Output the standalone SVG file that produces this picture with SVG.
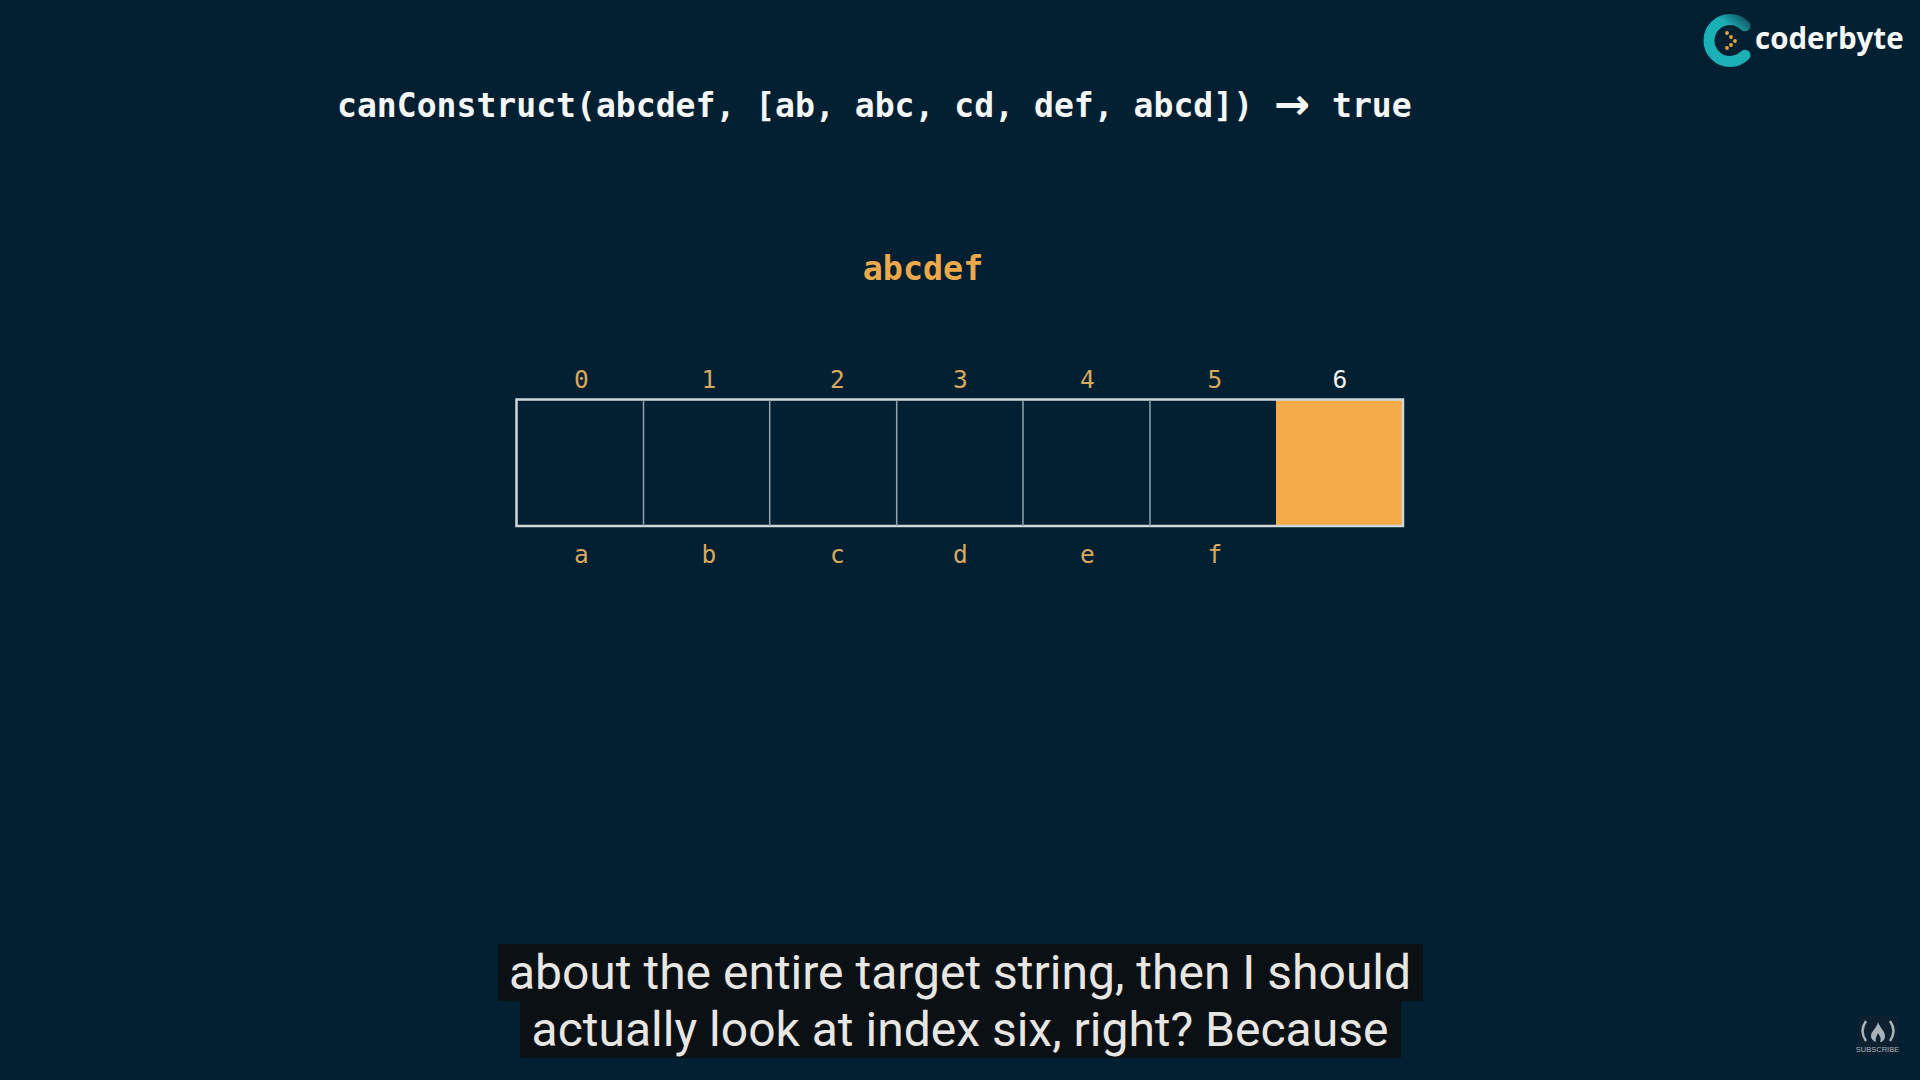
<svg xmlns="http://www.w3.org/2000/svg" width="1920" height="1080" viewBox="0 0 1920 1080">
<defs>
<linearGradient id="arc" gradientUnits="userSpaceOnUse" x1="1715" y1="60" x2="1752" y2="16"><stop offset="0.6" stop-color="#1bb0b5"/><stop offset="1" stop-color="#0f3a48"/></linearGradient>
</defs>
<style>
.mono{font-family:"DejaVu Sans Mono","Liberation Mono",monospace}
.code{font-size:33.1px;font-weight:700;fill:#f4f6f7}
.idx{font-size:24.5px;fill:#d8a95e;text-anchor:middle}
.cap{font-family:Roboto,"Liberation Sans",sans-serif;font-size:48px;fill:#e8e6e3;text-anchor:middle}
.div{stroke:#8fa3b0;stroke-width:1.5}
</style>
<rect width="1920" height="1080" fill="#022031"/>
<g id="logo">
<path d="M1745 25.800A21 21 0 1 0 1745 55.200" fill="none" stroke="url(#arc)" stroke-width="11" stroke-linecap="round"/>
<g fill="#f0a23c"><circle cx="1727" cy="33" r="1.900"/><circle cx="1731" cy="37" r="1.900"/><circle cx="1735" cy="41" r="1.900"/><circle cx="1731" cy="45" r="1.900"/><circle cx="1727" cy="48" r="1.900"/></g>
<text x="1755" y="48.500" font-family="'Open Sans','Noto Sans',sans-serif" font-weight="700" font-size="29.500" fill="#f5f7f8">coderbyte</text>
</g>
<g id="title"><text class="mono code" x="337" y="117">canConstruct(abcdef, [ab, abc, cd, def, abcd])</text>
<text x="1274" y="119" font-family="'DejaVu Sans',sans-serif" font-size="43" font-weight="700" fill="#f4f6f7">→</text>
<text class="mono code" x="1332" y="117">true</text></g>
<g id="target"><text class="mono" x="923" y="280" font-size="33.400" font-weight="700" fill="#eca94b" text-anchor="middle">abcdef</text></g>
<g id="array">
<rect id="cell-6" x="1276" y="399.500" width="127" height="126.500" fill="#f5ac48"/>
<rect x="516.500" y="399.500" width="886.500" height="126.500" fill="none" stroke="#cfd6da" stroke-width="2.500"/>
<g class="dividers"><line class="div" x1="643.500" y1="400" x2="643.500" y2="526"/><line class="div" x1="769.700" y1="400" x2="769.700" y2="526"/><line class="div" x1="896.700" y1="400" x2="896.700" y2="526"/><line class="div" x1="1023" y1="400" x2="1023" y2="526"/><line class="div" x1="1150" y1="400" x2="1150" y2="526"/></g>
</g>
<g id="indices">
<text class="mono idx" x="581.500" y="387.500">0</text><text class="mono idx" x="709" y="387.500">1</text><text class="mono idx" x="837.500" y="387.500">2</text><text class="mono idx" x="960.500" y="387.500">3</text><text class="mono idx" x="1087.500" y="387.500">4</text><text class="mono idx" x="1215" y="387.500">5</text><text class="mono idx" x="1340" y="387.500" style="fill:#f1f3f4">6</text>
</g>
<g id="letters">
<text class="mono idx" x="581.500" y="562.500">a</text><text class="mono idx" x="709" y="562.500">b</text><text class="mono idx" x="837.500" y="562.500">c</text><text class="mono idx" x="960.500" y="562.500">d</text><text class="mono idx" x="1087.500" y="562.500">e</text><text class="mono idx" x="1215" y="562.500">f</text>
</g>
<g id="caption">
<rect x="498" y="944" width="925" height="57" fill="#0a1014"/><rect x="520" y="1001" width="881" height="57" fill="#0a1014"/>
<text class="cap" x="960" y="989">about the entire target string, then I should</text>
<text class="cap" x="960" y="1046">actually look at index six, right? Because</text>
</g>
<g id="subscribe">
<rect x="1858" y="1016" width="39" height="39" fill="#0d2130"/>
<path d="M1866 1021Q1859 1031 1866 1041M1890 1021Q1897 1031 1890 1041" fill="none" stroke="#a9b2b8" stroke-width="2.500"/>
<path d="M1878 1022C1880 1028 1885 1031 1885 1036C1885 1040 1882 1042 1880 1042C1882 1038 1879 1035 1878 1033C1877 1036 1875 1038 1876 1042C1873 1041 1871 1039 1871 1036C1871 1031 1877 1028 1878 1022Z" fill="#a9b2b8"/>
<text x="1877.500" y="1052" font-family="'Liberation Sans',sans-serif" font-size="7.500" fill="#a9b2b8" text-anchor="middle">SUBSCRIBE</text>
</g>
</svg>
